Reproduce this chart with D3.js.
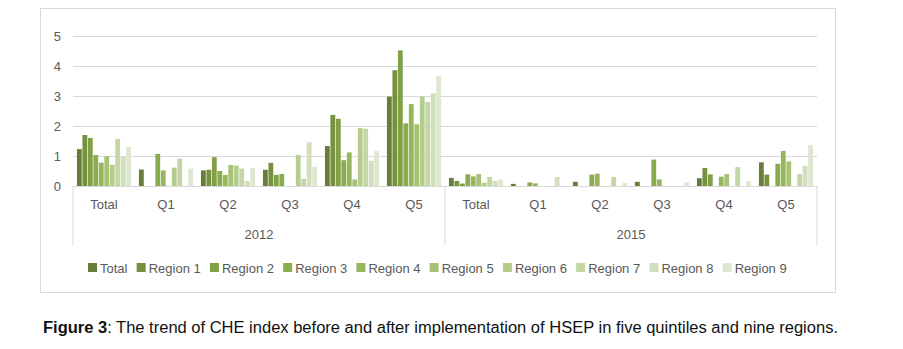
<!DOCTYPE html>
<html>
<head>
<meta charset="utf-8">
<script src="https://cdn.jsdelivr.net/npm/d3@7"></script>
<style>
  body { margin: 0; background: #fff; }
  text { font-family: "Liberation Sans", Arial, sans-serif; }
</style>
</head>
<body>
<div id="chart"></div>
<script>
// chart data
const years = ["2012", "2015"];
const groups = ["Total", "Q1", "Q2", "Q3", "Q4", "Q5"];
const seriesNames = ["Total", "Region 1", "Region 2", "Region 3", "Region 4", "Region 5",
                     "Region 6", "Region 7", "Region 8", "Region 9"];
const yTicks = [0, 1, 2, 3, 4, 5];

// one value per (year, group), 2012 groups first then 2015
const total   = [1.23, 0.55, 0.52, 0.54, 1.33, 2.98, 0.27, 0.07, 0.14, 0.14, 0.26, 0.79];
const region1 = [1.70, 0,    0.54, 0.77, 2.37, 3.86, 0.17, 0,    0,    0,    0.60, 0.38];
const region2 = [1.60, 0,    0.96, 0.37, 2.24, 4.52, 0.08, 0,    0,    0,    0.39, 0];
const region3 = [1.03, 1.07, 0.50, 0.40, 0.86, 2.09, 0.39, 0.12, 0.38, 0.88, 0,    0.74];
const region4 = [0.78, 0.52, 0.37, 0,    1.12, 2.73, 0.32, 0.09, 0.41, 0.22, 0.31, 1.17];
const region5 = [0.99, 0,    0.70, 0,    0.22, 2.06, 0.40, 0,    0,    0,    0.40, 0.82];
const region6 = [0.71, 0.61, 0.68, 1.03, 1.93, 2.98, 0.11, 0,    0,    0,    0,    0];
const region7 = [1.57, 0.91, 0.58, 0.24, 1.91, 2.80, 0.30, 0,    0.30, 0,    0.63, 0.40];
const region8 = [0.99, 0,    0.17, 1.46, 0.84, 3.09, 0.17, 0.30, 0,    0,    0,    0.67];
const region9 = [1.30, 0.58, 0.60, 0.64, 1.17, 3.66, 0.21, 0,    0.10, 0.13, 0.16, 1.36];

const seriesValues = [total, region1, region2, region3, region4, region5,
                      region6, region7, region8, region9];
const colors = ["#677d39", "#76913f", "#80a045", "#8bac4e", "#98b75c", "#a7c274",
                "#b4cc8c", "#c3d6a4", "#d1dfbc", "#dee7d1"];

const width = 903, height = 349;
const margin = { top: 36, right: 86, bottom: 163, left: 73 };
const textColor = "#595959", gridColor = "#d9d9d9";

const svg = d3.select("#chart")
    .append("svg")
    .attr("width", width)
    .attr("height", height);

// chart frame
svg.append("rect")
    .attr("x", 40.5).attr("y", 8.5)
    .attr("width", 795).attr("height", 284)
    .attr("fill", "none")
    .attr("stroke", gridColor);

const cells = [];
years.forEach(yr => groups.forEach(g => cells.push(yr + "|" + g)));

const x0 = d3.scaleBand()
    .domain(cells)
    .range([margin.left, width - margin.right]);

const x1 = d3.scaleBand()
    .domain(seriesNames)
    .range([0, x0.bandwidth()])
    .paddingInner(0.12)
    .paddingOuter(0.72);

const y = d3.scaleLinear()
    .domain([0, 5])
    .range([height - margin.bottom, margin.top]);

// gridlines + y labels
const yAxis = svg.append("g")
    .attr("transform", `translate(${margin.left},0)`)
    .call(d3.axisLeft(y)
        .tickValues(yTicks)
        .tickSize(-(width - margin.right - margin.left))
        .tickPadding(12)
        .tickFormat(d3.format("d")));
yAxis.select(".domain").remove();
yAxis.selectAll(".tick line").attr("stroke", gridColor);
yAxis.selectAll(".tick text")
    .attr("fill", textColor)
    .attr("font-size", 13);

// bars
seriesValues.forEach((vals, si) => {
    svg.append("g")
        .attr("fill", colors[si])
        .selectAll("rect")
        .data(vals.map((v, ci) => ({ cell: cells[ci], v })))
        .join("rect")
        .filter(d => d.v > 0)
        .attr("x", d => x0(d.cell) + x1(seriesNames[si]))
        .attr("y", d => y(d.v))
        .attr("width", x1.bandwidth())
        .attr("height", d => y(0) - y(d.v));
});

// category axis: group labels and year labels
const x0Axis = svg.append("g")
    .attr("transform", `translate(0,${y(0)})`)
    .call(d3.axisBottom(x0).tickSize(0).tickPadding(14).tickFormat(d => d.split("|")[1]));
x0Axis.select(".domain").attr("stroke", gridColor);
x0Axis.selectAll(".tick text").attr("fill", textColor).attr("font-size", 13);

const yearScale = d3.scaleBand()
    .domain(years)
    .range([margin.left, width - margin.right]);

svg.append("g")
    .selectAll("line")
    .data([margin.left, margin.left + yearScale.bandwidth(), width - margin.right])
    .join("line")
    .attr("x1", d => d).attr("x2", d => d)
    .attr("y1", y(0)).attr("y2", y(0) + 59)
    .attr("stroke", gridColor);

svg.append("g")
    .selectAll("text")
    .data(years)
    .join("text")
    .attr("x", d => yearScale(d) + yearScale.bandwidth() / 2)
    .attr("y", y(0) + 53)
    .attr("text-anchor", "middle")
    .attr("fill", textColor)
    .attr("font-size", 13)
    .text(d => d);

// legend
const legend = svg.append("g").attr("transform", "translate(88,263)");
let lx = 0;
seriesNames.forEach((name, i) => {
    const item = legend.append("g").attr("transform", `translate(${lx},0)`);
    item.append("rect")
        .attr("width", 9).attr("height", 9)
        .attr("fill", colors[i]);
    const t = item.append("text")
        .attr("x", 12).attr("y", 9.5)
        .attr("fill", textColor)
        .attr("font-size", 13)
        .text(name);
    lx += 12 + t.node().getComputedTextLength() + 9.2;
});

// caption
const caption = svg.append("text")
    .attr("x", 43)
    .attr("y", 333)
    .attr("font-family", "Roboto, sans-serif")
    .attr("font-size", 16)
    .attr("fill", "#111")
    .attr("textLength", 795)
    .attr("lengthAdjust", "spacingAndGlyphs");
caption.append("tspan").attr("font-weight", 700).text("Figure 3");
caption.append("tspan").attr("font-weight", 500)
    .text(": The trend of CHE index before and after implementation of HSEP in five quintiles and nine regions.");
</script>
</body>
</html>
